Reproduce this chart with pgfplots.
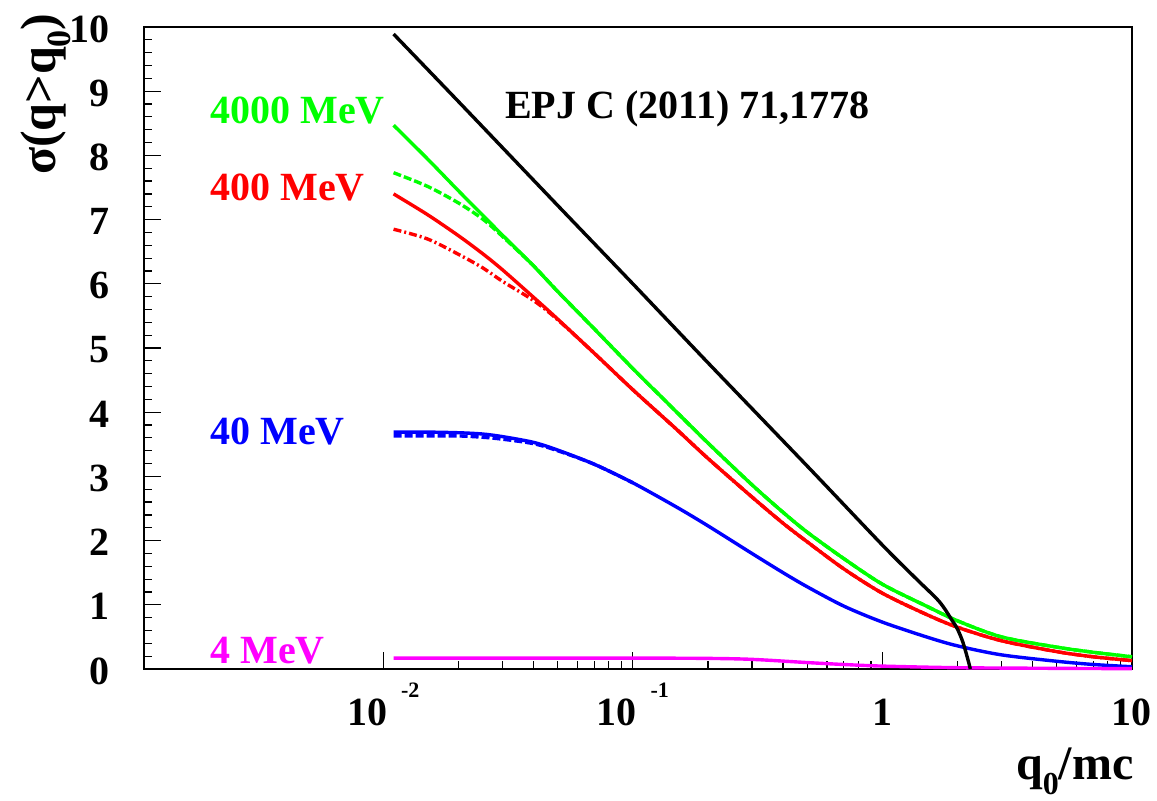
\documentclass[border=0pt]{standalone}
\usepackage{fontspec}
\setmainfont{Liberation Serif}
\usepackage{pgfplots}
\pgfplotsset{compat=1.18}
\definecolor{cgreen}{RGB}{0,255,0}
\definecolor{cred}{RGB}{255,0,0}
\definecolor{cblue}{RGB}{0,0,255}
\definecolor{cmag}{RGB}{255,0,255}
\begin{document}
\begin{tikzpicture}
\begin{axis}[
  scale only axis, width=494pt, height=321pt,
  xmode=log, xmin=0.0011, xmax=10, ymin=0, ymax=10,
  axis line style={line width=0.6pt},
  xtick={0.01,0.1,1,10},
  xticklabels={{\textbf{10}\hspace{7pt}\raisebox{14pt}{\fontsize{11}{12}\selectfont\textbf{-2}}},
               {\textbf{10}\hspace{7pt}\raisebox{14pt}{\fontsize{11}{12}\selectfont\textbf{-1}}},
               {\textbf{1}},{\textbf{10}}},
  ytick={0,1,...,10}, minor y tick num=4,
  xtick pos=bottom, ytick pos=left,
  major tick length=8.5pt, minor tick length=4pt,
  tick style={black, line width=0.6pt},
  tick label style={font=\fontsize{20}{24}\selectfont\bfseries},
  /pgf/number format/assume math mode=true,
  xticklabel style={anchor=base, inner sep=0pt, yshift=-28.5pt},
  yticklabel style={anchor=east, inner sep=0pt, xshift=-17pt, yshift=-1pt},
  clip=false,
  every axis plot/.append style={line width=1.7pt},
]
\coordinate (ll) at (rel axis cs:0,0);
\coordinate (ur) at (rel axis cs:1,1);

% 4000 MeV dashed
\addplot[cgreen, smooth, dash pattern=on 4pt off 1.5pt] coordinates {
(0.011,7.73)(0.015,7.52)(0.02,7.26)(0.025,7.01)(0.03,6.74)(0.04,6.28)(0.05,5.88)(0.07,5.30)(0.1,4.68)(0.15,4.00)(0.2,3.52)(0.3,2.87)(0.4,2.44)(0.5,2.13)(0.7,1.72)(1,1.32)(1.5,0.98)(2,0.75)(3,0.50)(5,0.34)(7,0.26)(10,0.19)};
% 4000 MeV
\addplot[cgreen, smooth] coordinates {
(0.011,8.47)(0.015,7.95)(0.02,7.45)(0.025,7.07)(0.03,6.76)(0.04,6.28)(0.05,5.88)(0.07,5.30)(0.1,4.68)(0.15,4.00)(0.2,3.52)(0.3,2.87)(0.4,2.44)(0.5,2.13)(0.7,1.72)(1,1.32)(1.5,0.98)(2,0.75)(3,0.50)(5,0.34)(7,0.26)(10,0.19)};
% 400 MeV dashed
\addplot[cred, smooth, dash pattern=on 4pt off 1.5pt on 1pt off 1.5pt] coordinates {
(0.011,6.85)(0.015,6.70)(0.02,6.46)(0.025,6.25)(0.03,6.04)(0.04,5.74)(0.05,5.44)(0.07,4.92)(0.1,4.35)(0.15,3.73)(0.2,3.28)(0.3,2.68)(0.4,2.27)(0.5,1.98)(0.7,1.56)(1,1.18)(1.5,0.85)(2,0.65)(3,0.44)(5,0.27)(7,0.19)(10,0.13)};
% 400 MeV
\addplot[cred, smooth] coordinates {
(0.011,7.40)(0.015,7.08)(0.02,6.75)(0.025,6.47)(0.03,6.22)(0.04,5.79)(0.05,5.45)(0.07,4.92)(0.1,4.35)(0.15,3.73)(0.2,3.28)(0.3,2.68)(0.4,2.27)(0.5,1.98)(0.7,1.56)(1,1.18)(1.5,0.85)(2,0.65)(3,0.44)(5,0.27)(7,0.19)(10,0.13)};
% 40 MeV dashed
\addplot[cblue, smooth, dash pattern=on 4pt off 1.5pt] coordinates {
(0.011,3.63)(0.015,3.63)(0.02,3.63)(0.025,3.61)(0.03,3.58)(0.04,3.51)(0.05,3.40)(0.07,3.19)(0.1,2.90)};
% 40 MeV
\addplot[cblue, smooth] coordinates {
(0.011,3.69)(0.015,3.69)(0.02,3.68)(0.025,3.66)(0.03,3.62)(0.04,3.53)(0.05,3.41)(0.07,3.19)(0.1,2.90)(0.15,2.52)(0.2,2.23)(0.3,1.80)(0.4,1.50)(0.5,1.28)(0.7,0.98)(1,0.73)(1.5,0.50)(2,0.36)(3,0.22)(5,0.12)(7,0.07)(10,0.035)};
% 4 MeV
\addplot[cmag, smooth] coordinates {
(0.011,0.17)(0.05,0.17)(0.1,0.17)(0.2,0.165)(0.3,0.15)(0.5,0.10)(0.7,0.07)(1,0.045)(2,0.02)(5,0.01)(10,0.005)};
% black
\addplot[black, smooth, tension=0.5] coordinates {
(0.011,9.89)(0.02,8.84)(0.05,7.22)(0.1,6.00)(0.2,4.77)(0.5,3.16)(1,1.93)(1.37,1.40)(1.69,1.05)(1.9,0.76)(2.0,0.62)(2.1,0.42)(2.2,0.15)(2.25,0)};

\node[anchor=base west, inner sep=0pt, text=cgreen, font=\fontsize{20}{24}\selectfont\bfseries] at (rel axis cs:0.0668,0.850) {4000 MeV};
\node[anchor=base west, inner sep=0pt, text=cred, font=\fontsize{20}{24}\selectfont\bfseries] at (rel axis cs:0.0668,0.730) {400 MeV};
\node[anchor=base west, inner sep=0pt, text=cblue, font=\fontsize{20}{24}\selectfont\bfseries] at (rel axis cs:0.0668,0.349) {40 MeV};
\node[anchor=base west, inner sep=0pt, text=cmag, font=\fontsize{20}{24}\selectfont\bfseries] at (rel axis cs:0.0668,0.0093) {4 MeV};
\node[anchor=base west, inner sep=0pt, font=\fontsize{20}{24}\selectfont\bfseries] at (rel axis cs:0.365,0.857) {EPJ C (2011) 71,1778};
\end{axis}
\node[rotate=90, anchor=base east, inner sep=0pt, font=\fontsize{25}{28}\selectfont\bfseries] at ([shift={(-44pt,7pt)}]ur -| ll) {σ(q>q\raisebox{-0.3em}{\fontsize{17}{18}\selectfont 0})};
\node[anchor=base east, inner sep=0pt, font=\fontsize{24}{28}\selectfont\bfseries] at ([shift={(1pt,-55.5pt)}]ll -| ur) {q\raisebox{-0.3em}{\fontsize{16}{18}\selectfont 0}/mc};
\pgfresetboundingbox
\path[use as bounding box] ([shift={(-72pt,-66pt)}]ll) rectangle ([shift={(12.5pt,13.5pt)}]ur);
\end{tikzpicture}
\end{document}
